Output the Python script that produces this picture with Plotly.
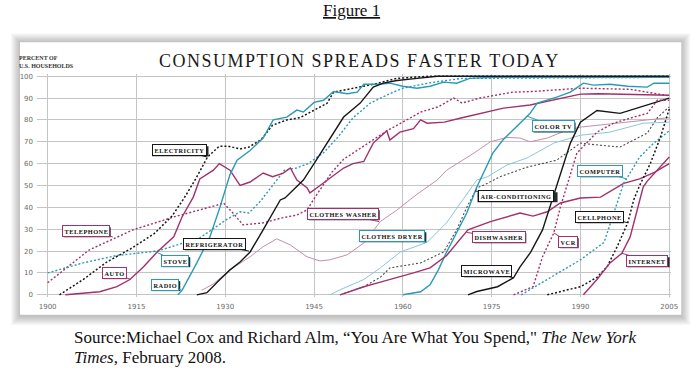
import plotly.graph_objects as go

# ---------------- data ----------------
electricity_years = [1902, 1906, 1910, 1914, 1918, 1921, 1923, 1925, 1927, 1929, 1930.5, 1932.5, 1934, 1936, 1938, 1940.4, 1942.6, 1945, 1947.2, 1948.3, 1950.6, 1955, 1959, 1964.6, 2005]
electricity = [0, 7, 15, 21, 28, 36, 44, 53, 63, 68, 68, 66.7, 67.6, 70.8, 77.6, 80, 81, 84.5, 87.6, 92.7, 94, 96.3, 99, 100, 100]

telephone_years = [1900, 1907, 1914.4, 1921.3, 1928.6, 1929.7, 1931.3, 1933, 1936.4, 1939.3, 1942.1, 1943.8, 1945.5, 1948, 1950, 1953.4, 1957.3, 1960, 1963, 1966, 1968.6, 1970, 1973, 1978.6, 1982, 1990, 1998.4, 2005]
telephone = [5.5, 20.5, 29.7, 35.6, 41, 42, 37.4, 32, 32.9, 35, 36.5, 38.8, 46, 56, 62, 68, 75, 79, 83.6, 86, 90, 87.7, 90, 92.7, 93, 94.5, 94, 91]

auto_years = [1903, 1908.8, 1911.7, 1913.9, 1916.2, 1918.5, 1921.3, 1922.7, 1924.6, 1925.7, 1928, 1929, 1930.8, 1932.5, 1934.2, 1936.4, 1938, 1939.8, 1941, 1942.1, 1943.8, 1944.3, 1945.5, 1947.2, 1950, 1951.6, 1953.4, 1955, 1957.3, 1957.8, 1959.5, 1961.8, 1963, 1964.1, 1967, 1970, 1977, 1981.5, 1990, 1993, 2005]
auto = [0, 1.4, 3.7, 7, 12.8, 19.6, 26.5, 35.6, 44.7, 53, 57, 60, 57, 50, 51.6, 55.7, 54, 55.7, 58, 52.5, 49, 46.6, 49, 52.5, 58, 60, 61, 69.4, 75, 70.8, 74.4, 76, 80, 78.5, 79, 81, 85.4, 86.8, 91.8, 92, 91.3]

stove_years = [1900, 1906, 1911.7, 1918.5, 1925.7, 1930, 1932.5, 1934, 1936, 1938, 1940, 1942, 1944, 1946.6, 1949, 1951.6, 1954.5, 1957.8, 1960, 1964.6, 1970, 2005]
stove = [10, 14.6, 18, 20, 26, 34, 38, 37.4, 43, 50, 57, 58, 60, 65, 72, 81, 87.7, 92, 94.5, 97, 99, 99.5]

radio_years = [1922, 1922.7, 1925.2, 1927.4, 1929.1, 1930.8, 1932, 1934.2, 1936.4, 1938.1, 1940.4, 1942.1, 1943.2, 1945, 1946.6, 1948.3, 1950.6, 1952.3, 1953.4, 1955.6, 1957.8, 1960, 1962.4, 1964.6, 1966.9, 1969.1, 1971.3, 1975, 2005]
radio = [0, 2, 14.6, 26.5, 40, 55, 61.6, 66, 71.7, 80, 81.3, 84.5, 83.6, 88, 89, 93, 92, 92.7, 96.3, 96.3, 96.8, 95.4, 94.5, 95.4, 97.3, 96.8, 99, 99.5, 99.5]

refrigerator_years = [1925.2, 1926.9, 1929.1, 1930.8, 1932.5, 1934.2, 1936.4, 1939.3, 1940.1, 1942.1, 1943.2, 1945, 1947.2, 1950, 1952.8, 1955, 1956.7, 1959, 1962.4, 1965.8, 2005]
refrigerator = [0, 1, 7, 11.4, 15, 19.6, 29.7, 43.4, 44.3, 49.3, 52.5, 60, 69.4, 81.3, 87.7, 95, 96.8, 98, 99, 100, 100]

washer_years = [1926, 1928, 1930.8, 1934.2, 1936.4, 1938.7, 1941, 1943.8, 1946, 1947.7, 1950.6, 1953.4, 1956.2, 1959, 1962.4, 1965.8, 1967.4, 1972, 1974.8, 1977.6, 1979.8, 1981.5, 1984.4, 1987.7, 1990, 1995.6, 2001.3, 2005]
washer = [2, 5, 11.4, 17.4, 22, 25.6, 22.8, 17.4, 15.5, 16, 18.3, 23.7, 33.5, 38.8, 46, 52.5, 57, 64.8, 70, 72, 71.7, 70, 71.7, 75.3, 76.7, 78.5, 80, 81]

dryer_years = [1947.7, 1949.4, 1953.4, 1956.2, 1959.6, 1964.1, 1967.4, 1970.2, 1972.5, 1974.3, 1977.6, 1981, 1985.5, 1990, 1995, 2000.6, 2005]
dryer = [0, 2.3, 7, 12.3, 19.6, 24, 33, 43.4, 52.5, 54, 59.4, 62.6, 69.4, 73, 74.4, 78.5, 79]

aircon_years = [1949.4, 1953.4, 1956.2, 1957.8, 1963, 1966.9, 1969.1, 1970.8, 1972.5, 1974.3, 1976.4, 1981, 1986, 1990, 1993, 1996.7, 2001.3, 2003, 2005]
aircon = [0, 3.7, 8, 12.3, 14.6, 19.6, 29.7, 40, 48.8, 51, 54, 58.4, 61.6, 69.4, 68.5, 67.6, 74, 81, 86]

colortv_years = [1960, 1963, 1964.6, 1966, 1967.4, 1969.1, 1970.8, 1972.5, 1975.2, 1976.9, 1978.6, 1980.3, 1981.5, 1982.7, 1986, 1988.3, 1990.5, 1992.2, 1995, 1998, 2001.3, 2002.4, 2005]
colortv = [0, 1.4, 4.6, 11.4, 19.6, 28.8, 37.4, 49.3, 64.8, 70.8, 75.3, 80, 83, 87.7, 90.4, 92.7, 96.8, 95.9, 96.3, 95.4, 95, 96.8, 96.8]

dishwasher_years = [1949.4, 1953.4, 1956.2, 1959.6, 1961.8, 1964.6, 1967.4, 1971, 1974.8, 1979.8, 1982, 1984.4, 1986.6, 1990, 1993.4, 1997.3, 2000, 2002.5, 2005]
dishwasher = [0, 3.7, 5.8, 8.2, 10, 12.3, 18, 29.7, 33.5, 37.4, 36, 38, 42, 44.3, 44.7, 51, 53, 56, 60]

microwave_years = [1971, 1972.5, 1976, 1978.7, 1979.8, 1981.6, 1983.6, 1986, 1988.3, 1990, 1992.8, 1996.7, 2001.3, 2005]
microwave = [0, 1.5, 3.7, 7.8, 12.8, 19.5, 29.7, 50, 69.4, 79, 84.3, 83, 86.8, 90]

vcr_years = [1978.7, 1982, 1983.6, 1985.5, 1986.6, 1987.7, 1989.4, 1992.8, 1995.6, 1998.4, 2001.3, 2003, 2005]
vcr = [0, 3.7, 17.4, 28.3, 40, 50, 64.8, 74.4, 78.5, 80.8, 83, 89, 89]

computer_years = [1980, 1984.4, 1990, 1994, 1995.6, 1997.3, 1998, 2000, 2002.4, 2005]
computer = [0, 7, 16, 24, 37.4, 51, 54, 63, 69.4, 75]

cellphone_years = [1984.4, 1990, 1992.8, 1994.5, 1996.2, 1998, 1999, 2000, 2001.8, 2003.5, 2005]
cellphone = [0, 3.7, 8, 12.8, 22, 33, 43.4, 50, 60, 72, 85]

internet_years = [1990.5, 1992.8, 1995, 1997, 1998.4, 1999.5, 2000.6, 2001.3, 2003, 2005]
internet = [0, 7, 14.6, 19, 26.5, 37.4, 49.3, 52, 57, 63]

x_tick_years = [1900, 1915, 1930, 1945, 1960, 1975, 1990, 2005]
y_tick_values = [0, 10, 20, 30, 40, 50, 60, 70, 80, 90, 100]

# ---------------- styles ----------------
MAG = "#a3306b"
TEAL = "#2a9ab6"
BLK = "#161616"
LPINK = "#c58eae"
LTEAL = "#86c9d8"
GRAY = "#4a4a4a"
DOT = "2px,2px"

series = [
    ("Clothes washer", washer_years, washer, LPINK, 1.0, "solid"),
    ("Clothes dryer", dryer_years, dryer, LTEAL, 1.0, "solid"),
    ("Air-conditioning", aircon_years, aircon, GRAY, 1.1, DOT),
    ("Telephone", telephone_years, telephone, MAG, 1.4, DOT),
    ("Stove", stove_years, stove, TEAL, 1.4, DOT),
    ("Electricity", electricity_years, electricity, BLK, 1.5, DOT),
    ("Auto", auto_years, auto, MAG, 1.4, "solid"),
    ("Radio", radio_years, radio, TEAL, 1.4, "solid"),
    ("Refrigerator", refrigerator_years, refrigerator, BLK, 1.4, "solid"),
    ("Color TV", colortv_years, colortv, TEAL, 1.4, "solid"),
    ("Dishwasher", dishwasher_years, dishwasher, MAG, 1.4, "solid"),
    ("Microwave", microwave_years, microwave, BLK, 1.4, "solid"),
    ("VCR", vcr_years, vcr, MAG, 1.4, DOT),
    ("Computer", computer_years, computer, TEAL, 1.4, DOT),
    ("Cellphone", cellphone_years, cellphone, BLK, 1.5, DOT),
    ("Internet", internet_years, internet, MAG, 1.4, "solid"),
]

fig = go.Figure()
for name, xs, ys, col, w, dash in series:
    fig.add_trace(go.Scatter(x=xs, y=ys, mode="lines", name=name,
                             line=dict(color=col, width=w, dash=dash),
                             hoverinfo="skip", showlegend=False))

# ---------------- geometry helpers ----------------
W, H = 700, 378
L, R, T, B = 37, 29.3, 73.8, 80.8
PW, PH = W - L - R, H - T - B
X0, X1 = 1898.2, 2005.3
Y0, Y1 = -1, 101

def px_x(px):
    return (px - L) / PW

def px_y(py):
    return (H - B - py) / PH

def data_px(year, val):
    return L + (year - X0) / (X1 - X0) * PW, T + (Y1 - val) / (Y1 - Y0) * PH

shapes = []
# soft card shadow
N = 9
for i in range(N):
    e = (N - i) * 1.0
    shapes.append(dict(type="rect", xref="paper", yref="paper", layer="below",
                       x0=px_x(20 - e), x1=px_x(681 + e), y0=px_y(315 + e + 1.5), y1=px_y(42 - e),
                       fillcolor="rgba(0,0,0,0.026)", line=dict(width=0)))
shapes.append(dict(type="rect", xref="paper", yref="paper", layer="below",
                   x0=px_x(20), x1=px_x(681), y0=px_y(315), y1=px_y(42),
                   fillcolor="white", line=dict(width=0)))

def spaced(s, sep="\u200a"):
    return sep.join(list(s))

annotations = []
annotations.append(dict(text="<u>Figure 1</u>", xref="paper", yref="paper",
                        x=px_x(351), y=px_y(10), xanchor="center", yanchor="middle", showarrow=False,
                        font=dict(family="Liberation Serif", size=17, color="#111")))
annotations.append(dict(text=spaced("CONSUMPTION SPREADS FASTER TODAY"), xref="paper", yref="paper",
                        x=px_x(358), y=px_y(61), xanchor="center", yanchor="middle", showarrow=False,
                        font=dict(family="Liberation Serif", size=18, color="#1a1a1a")))
annotations.append(dict(text="<b>PERCENT OF<br>U.S. HOUSEHOLDS</b>", xref="paper", yref="paper",
                        x=px_x(17), y=px_y(62), xanchor="left", yanchor="middle", align="left",
                        showarrow=False,
                        font=dict(family="Liberation Serif", size=6, color="#333")))
annotations.append(dict(
    text="Source:Michael Cox and Richard Alm, \u201cYou Are What You Spend,\" <i>The New York</i>",
    xref="paper", yref="paper", x=px_x(72), y=px_y(338), xanchor="left", yanchor="middle",
    align="left", showarrow=False,
    font=dict(family="Liberation Serif", size=17, color="#111")))
annotations.append(dict(
    text="<i>Times</i>, February 2008.",
    xref="paper", yref="paper", x=px_x(72), y=px_y(358), xanchor="left", yanchor="middle",
    align="left", showarrow=False,
    font=dict(family="Liberation Serif", size=17, color="#111")))

labels = [
    ("ELECTRICITY", BLK, 1927, 63, 179, 150),
    ("TELEPHONE", MAG, 1911, 26.5, 86, 231),
    ("AUTO", MAG, 1914, 7, 114, 273),
    ("STOVE", TEAL, 1918, 20, 175, 261),
    ("RADIO", TEAL, 1922.7, 2, 165, 285),
    ("REFRIGERATOR", BLK, 1934, 20, 214, 244),
    ("CLOTHES WASHER", MAG, 1956, 33.5, 343, 214),
    ("CLOTHES DRYER", TEAL, 1964, 24, 392, 236),
    ("AIR-CONDITIONING", BLK, 1972.2, 47.5, 516, 196),
    ("COLOR TV", TEAL, 1981, 81.7, 553, 126),
    ("DISHWASHER", MAG, 1970.8, 28.5, 499, 237),
    ("MICROWAVE", BLK, 1978.7, 7.8, 486, 271),
    ("VCR", MAG, 1985.5, 28.3, 568, 242),
    ("COMPUTER", TEAL, 1997.8, 53, 600, 171),
    ("CELLPHONE", BLK, 1998, 33, 599, 217),
    ("INTERNET", MAG, 1997, 19, 647, 261),
]
LBL_SIZE = 6.3
for text, col, yr, val, bx, by in labels:
    ppx, ppy = data_px(yr, val)
    bw = len(text) * 4.75 + 4
    bh = 10
    shapes.append(dict(type="rect", xref="paper", yref="paper", layer="above",
                       x0=px_x(bx - bw / 2 + 1.3), x1=px_x(bx + bw / 2 + 1.3),
                       y0=px_y(by + bh / 2 + 1.3), y1=px_y(by - bh / 2 + 1.3),
                       fillcolor="#2a2a2a", line=dict(width=0)))
    annotations.append(dict(x=yr, y=val, xref="x", yref="y", axref="pixel", ayref="pixel",
                            ax=bx - ppx, ay=by - ppy, text="<b>" + spaced(text) + "</b>",
                            font=dict(family="Liberation Serif", size=LBL_SIZE, color="#111"),
                            borderpad=1.5, borderwidth=1,
                            showarrow=True, arrowhead=0, arrowwidth=1,
                            arrowcolor=col, bgcolor="white", bordercolor=col))

fig.update_layout(
    width=W, height=H,
    margin=dict(l=L, r=R, t=T, b=B, pad=0),
    paper_bgcolor="white", plot_bgcolor="rgba(0,0,0,0)",
    shapes=shapes, annotations=annotations,
    xaxis=dict(range=[X0, X1], tickvals=x_tick_years, ticktext=[str(v) for v in x_tick_years],
               showgrid=True, gridcolor="#c4c4c4", gridwidth=1.2, zeroline=False,
               showline=False, ticks="", ticklabelstandoff=4,
               tickfont=dict(family="DejaVu Sans", size=7, color="#6a6a6a")),
    yaxis=dict(range=[Y0, Y1], tickvals=y_tick_values, ticktext=[str(v) for v in y_tick_values],
               showgrid=True, gridcolor="#c4c4c4", gridwidth=1, zeroline=False,
               showline=False, ticks="", ticklabelstandoff=3,
               tickfont=dict(family="DejaVu Sans", size=7, color="#6a6a6a")),
)

fig.write_html("out.html", config={"displayModeBar": False},
               post_script="document.body.style.margin='0';")
